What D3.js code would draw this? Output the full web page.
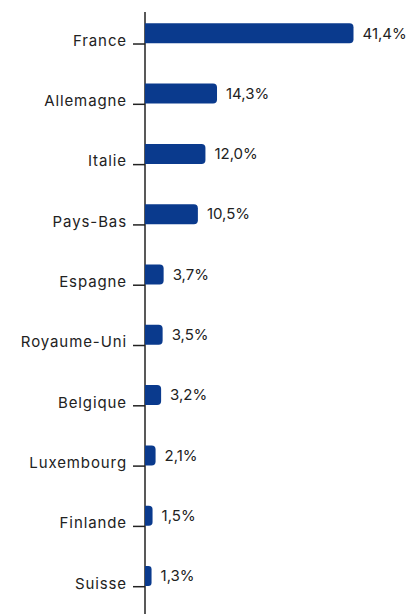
<!DOCTYPE html>
<html><head><meta charset="utf-8">
<script src="https://cdn.jsdelivr.net/npm/d3@7"></script>
<style>body{margin:0;background:#fff}svg{display:block}</style>
</head><body>
<script>
const categories = ["France","Allemagne","Italie","Pays-Bas","Espagne","Royaume-Uni","Belgique","Luxembourg","Finlande","Suisse"];
const values = [41.4,14.3,12.0,10.5,3.7,3.5,3.2,2.1,1.5,1.3];
const valueLabels = ["41,4%","14,3%","12,0%","10,5%","3,7%","3,5%","3,2%","2,1%","1,5%","1,3%"];

const W = 410, H = 614;
const svg = d3.select("body").append("svg").attr("width", W).attr("height", H);
const x0 = 145;
const x = d3.scaleLinear().domain([0, 41.4]).range([x0, 353.5]);
const y = d3.scaleBand().domain(categories).range([23.3, 586]).paddingInner(0.668).paddingOuter(0);
const bh = y.bandwidth();
const font = "Inter, 'Noto Sans', sans-serif";
const blue = "#0a3a8d";

// axis line
svg.append("line").attr("x1", x0).attr("x2", x0).attr("y1", 12).attr("y2", H).attr("stroke", "#222").attr("stroke-width", 1.5);

const r = 4;
function barPath(v, c) {
  const xe = x(v), yt = y(c), yb = yt + bh;
  const rr = Math.min(r, (xe - x0) / 2);
  return `M${x0},${yt}H${xe - rr}Q${xe},${yt} ${xe},${yt + rr}V${yb - rr}Q${xe},${yb} ${xe - rr},${yb}H${x0}Z`;
}
svg.selectAll("path.bar").data(categories).join("path").attr("class", "bar")
  .attr("d", (c, i) => barPath(values[i], c)).attr("fill", blue);

// ticks
svg.selectAll("line.tick").data(categories).join("line").attr("class", "tick")
  .attr("x1", x0 - 12).attr("x2", x0).attr("y1", c => y(c) + bh + 0.7).attr("y2", c => y(c) + bh + 0.7)
  .attr("stroke", "#222").attr("stroke-width", 1.5);

// category labels
svg.selectAll("text.cat").data(categories).join("text").attr("class", "cat")
  .attr("x", 127).attr("y", c => y(c) + bh + 2.5).attr("text-anchor", "end")
  .attr("font-family", font).attr("font-size", 15).attr("letter-spacing", "0.9px").attr("fill", "#222").text(c => c);

// value labels
svg.selectAll("text.val").data(categories).join("text").attr("class", "val")
  .attr("x", (c, i) => x(values[i]) + 9).attr("y", c => y(c) + bh / 2).attr("dy", "0.35em")
  .attr("font-family", font).attr("font-size", 15).attr("fill", "#222").text((c, i) => valueLabels[i]);
</script>
</body></html>
